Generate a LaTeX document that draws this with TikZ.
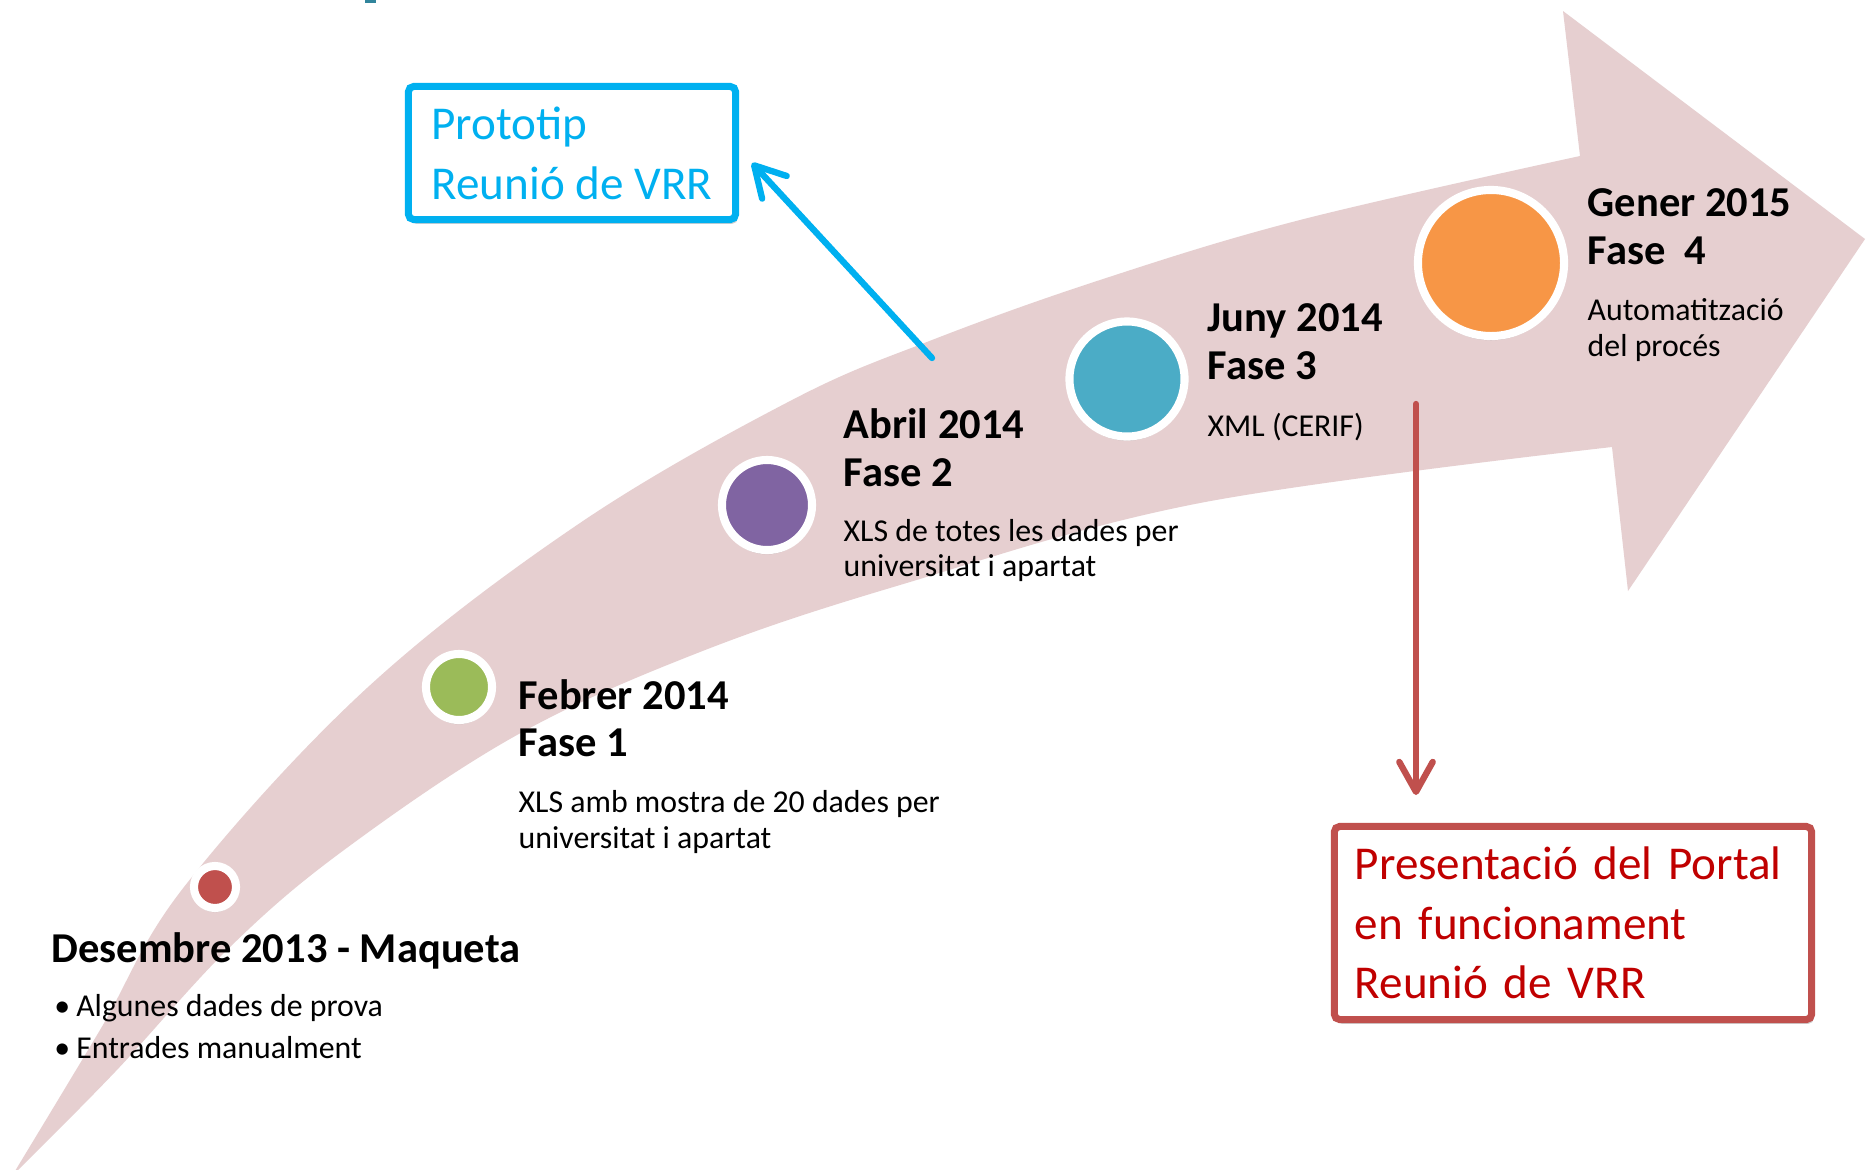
\documentclass[tikz,border=0pt]{standalone}
\usepackage{fontspec}
\setmainfont{Carlito}
\usepackage{xcolor}
\usepackage{tikz}
\usetikzlibrary{positioning, shapes, arrows.meta, calc, shadows}

\definecolor{arrowpink}{HTML}{E6CFD0}
\definecolor{dotred}{HTML}{C0504D}
\definecolor{dotgreen}{HTML}{9BBB59}
\definecolor{dotpurple}{HTML}{8064A2}
\definecolor{dotteal}{HTML}{4BACC6}
\definecolor{dotorange}{HTML}{F79646}
\definecolor{protoblue}{HTML}{00B0F0}
\definecolor{portalred}{HTML}{C00000}
\definecolor{titleteal}{HTML}{31859C}

\begin{document}
\begin{tikzpicture}[x=0.01cm, y=-0.01cm,
  every node/.style={inner sep=0pt, font=\fontsize{9.05pt}{10pt}\selectfont},
  milestone/.style={circle, draw=white, line width=2.3pt, drop shadow={shadow xshift=0pt, shadow yshift=-1.2pt, opacity=0.3, fill=black!60}},
  heading/.style={anchor=base west, align=left, font=\fontsize{12.1pt}{13.4pt}\selectfont\bfseries},
  detail/.style={anchor=base west, align=left},
  notebox/.style={rectangle, rounded corners=1.5pt, line width=2pt, fill=white, align=left, font=\fontsize{13.4pt}{17pt}\selectfont, drop shadow={shadow xshift=0.6pt, shadow yshift=-1.2pt, opacity=0.3, fill=black!60}},
  callout/.style={line width=1.8pt, line cap=round, -{Straight Barb[length=8.5pt, width=9.5pt, round]}}
]
\path[use as bounding box, fill=white] (0,0) rectangle (1866,1169);

% Big curved arrow behind the timeline
\fill[arrowpink] (12,1176)
  -- plot[smooth, tension=0.6] coordinates {(12,1176) (100,1030) (184,887) (367,688) (580,523) (792,400) (932,340) (1100,280) (1300,220) (1580,156)}
  -- (1563,11) -- (1865,239) -- (1628,591) -- (1612,447)
  -- plot[smooth, tension=0.6] coordinates {(1612,447) (1200,503) (900,585) (700,652) (517,735) (344,850) (230,947) (115,1072) (12,1176)}
  -- cycle;
\fill[titleteal] (365,0) rectangle (376,2.5);

% Milestones
\node[milestone, fill=dotred, minimum size=0.42cm] (desembre) at (215,887) {};
\node[milestone, fill=dotgreen, minimum size=0.66cm] (febrer) at (459,687) {};
\node[milestone, fill=dotpurple, minimum size=0.9cm] (abril) at (767,505) {};
\node[milestone, fill=dotteal, minimum size=1.15cm] (juny) at (1127,379) {};
\node[milestone, fill=dotorange, minimum size=1.46cm] (gener) at (1491,263) {};

% Dates, phases and contents (placed at the baseline of the last line)
\node[heading] (desembretitle) at (51,962) {Desembre 2013 - Maqueta};
\node[detail, font=\fontsize{9.05pt}{11.9pt}\selectfont] (desembretext) at (53.6,1058.4) {\makebox[0.22cm][l]{\textbullet}Algunes dades de prova\\\makebox[0.22cm][l]{\textbullet}Entrades manualment};

\node[heading] (febrertitle) at (518,756.7) {Febrer 2014\\Fase 1};
\node[detail] (febrertext) at (518,848) {XLS amb mostra de 20 dades per\\universitat i apartat};

\node[heading] (abriltitle) at (843,486) {Abril 2014\\Fase 2};
\node[detail] (abriltext) at (843,576.7) {XLS de totes les dades per\\universitat i apartat};

\node[heading] (junytitle) at (1207,379) {Juny 2014\\Fase 3};
\node[detail] (junytext) at (1207,436.7) {XML (CERIF)};

\node[heading] (genertitle) at (1587,264) {Gener 2015\\Fase~~4};
\node[detail] (genertext) at (1587,356) {Automatització\\del procés};

% Meetings
\node[notebox, draw=protoblue, text=protoblue, minimum width=3.27cm, minimum height=1.33cm] (prototip) at (572,153) {Prototip\\Reunió de VRR};
\node[notebox, draw=dotred, text=portalred, minimum width=4.77cm, minimum height=1.93cm, text width=4.36cm, inner xsep=0.205cm] (portal) at (1573,923) {Presentació del Portal\\en funcionament\\Reunió de VRR};

\coordinate (protofrom) at (932,358);
\coordinate (prototo) at (752,163);
\draw[callout, protoblue] (protofrom) -- (prototo);

\coordinate (portalfrom) at (1416,404);
\coordinate (portalto) at (1416,795);
\draw[callout, dotred] (portalfrom) -- (portalto);

\end{tikzpicture}
\end{document}
